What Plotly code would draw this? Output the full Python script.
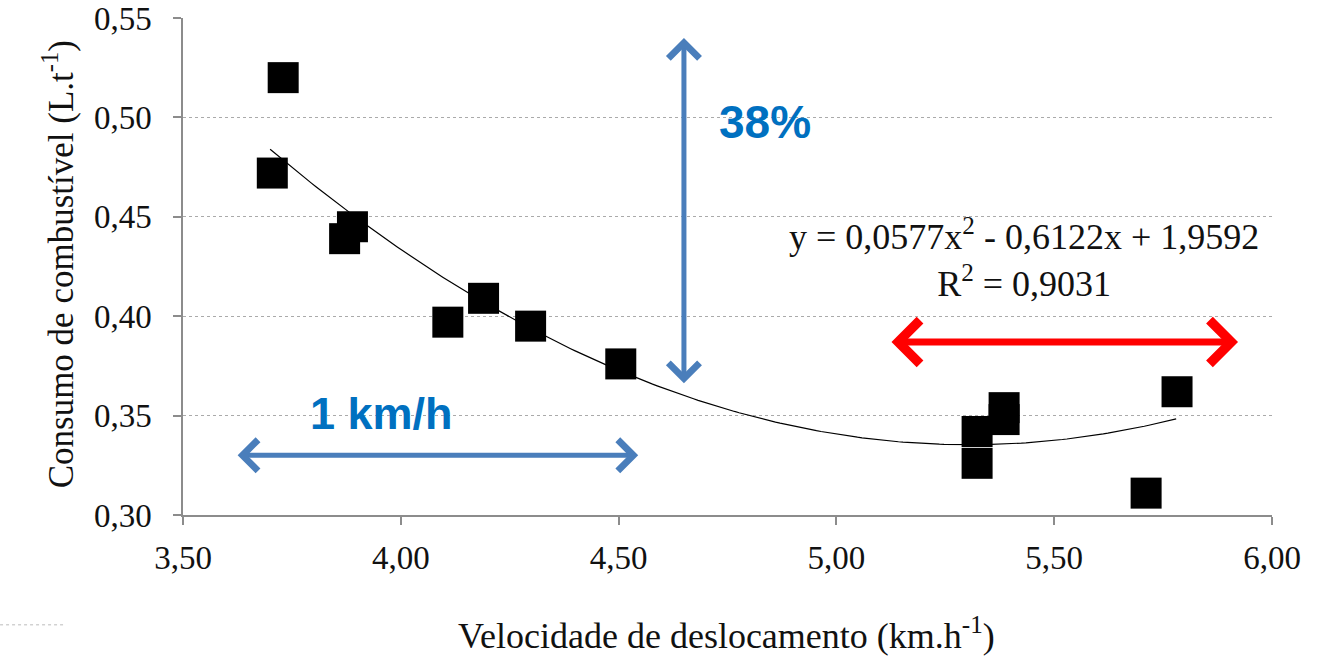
import numpy as np
import plotly.graph_objects as go

# data
velocidade = [3.730, 3.705, 3.871, 3.889, 4.108, 4.190, 4.298, 4.505, 5.323, 5.323, 5.385, 5.385, 5.711, 5.782]
consumo =    [0.520, 0.472, 0.439, 0.445, 0.397, 0.409, 0.395, 0.376, 0.342, 0.326, 0.354, 0.348, 0.311, 0.362]

# trendline coefficients (as printed on chart)
coef_a, coef_b, coef_c = 0.0577, -0.6122, 1.9592
trend_x_range = [3.70, 5.78]

x_ticks = [3.5, 4.0, 4.5, 5.0, 5.5, 6.0]
x_ticklabels = ["3,50", "4,00", "4,50", "5,00", "5,50", "6,00"]
y_ticks = [0.30, 0.35, 0.40, 0.45, 0.50, 0.55]
y_ticklabels = ["0,30", "0,35", "0,40", "0,45", "0,50", "0,55"]

tx = np.linspace(trend_x_range[0], trend_x_range[1], 200)
ty = coef_a * tx**2 + coef_b * tx + coef_c

fig = go.Figure()
fig.add_trace(go.Scatter(x=tx, y=ty, mode="lines", line=dict(color="black", width=1.2),
                         hoverinfo="skip", showlegend=False))
fig.add_trace(go.Scatter(x=velocidade, y=consumo, mode="markers",
                         marker=dict(symbol="square", size=31, color="black",
                                     line=dict(width=0)),
                         showlegend=False))

blue_arrow = "#4A7EBB"
blue_text = "#0070C0"
serif = "Liberation Serif"
sans = "Liberation Sans"

anns = []
# vertical blue double arrow
anns.append(dict(x=4.650, y=0.540, ax=4.650, ay=0.3655, xref="x", yref="y", axref="x", ayref="y",
                 text="", showarrow=True, arrowside="end+start", arrowhead=4, startarrowhead=4,
                 arrowwidth=5, arrowsize=1.2, startarrowsize=1.2, arrowcolor=blue_arrow,
                 standoff=0, startstandoff=0))
# horizontal blue double arrow
anns.append(dict(x=4.545, y=0.330, ax=3.622, ay=0.330, xref="x", yref="y", axref="x", ayref="y",
                 text="", showarrow=True, arrowside="end+start", arrowhead=4, startarrowhead=4,
                 arrowwidth=5, arrowsize=1.2, startarrowsize=1.2, arrowcolor=blue_arrow,
                 standoff=0, startstandoff=0))
# red double arrow
anns.append(dict(x=5.922, y=0.387, ax=5.123, ay=0.387, xref="x", yref="y", axref="x", ayref="y",
                 text="", showarrow=True, arrowside="end+start", arrowhead=4, startarrowhead=4,
                 arrowwidth=7, arrowsize=1.2, startarrowsize=1.2, arrowcolor="#FF0000",
                 standoff=0, startstandoff=0))
anns.append(dict(x=4.836, y=0.4977, xref="x", yref="y", text="<b>38%</b>", showarrow=False,
                 font=dict(family=sans, size=46, color=blue_text)))
anns.append(dict(x=3.955, y=0.3513, xref="x", yref="y", text="<b>1 km/h</b>", showarrow=False,
                 font=dict(family=sans, size=45, color=blue_text)))
anns.append(dict(x=5.430, y=0.4295, xref="x", yref="y",
                 text="y = 0,0577x<sup>2</sup> - 0,6122x + 1,9592<br>R<sup>2</sup> = 0,9031",
                 showarrow=False, align="center",
                 font=dict(family=serif, size=36, color="#111111")))
anns.append(dict(x=-0.137, y=0.505, xref="paper", yref="paper", textangle=-90,
                 text="Consumo de combustível (L.t<sup>-1</sup>)", showarrow=False,
                 font=dict(family=serif, size=35, color="#111111")))
anns.append(dict(x=0.4995, y=-0.287, xref="paper", yref="paper",
                 text="Velocidade de deslocamento (km.h<sup>-1</sup>)", showarrow=False,
                 font=dict(family=serif, size=36, color="#111111")))

fig.update_layout(
    width=1326, height=664,
    margin=dict(l=183, r=54, t=18, b=149),
    paper_bgcolor="white", plot_bgcolor="white",
    annotations=anns,
    shapes=[dict(type="line", xref="paper", yref="paper", x0=-0.168, x1=-0.108, y0=-0.221, y1=-0.221,
                 line=dict(color="#BBBBBB", width=1, dash="dot"))],
    xaxis=dict(range=[3.5, 6.0], tickvals=x_ticks, ticktext=x_ticklabels, automargin=False,
               showgrid=False, zeroline=False, showline=True, linecolor="#8C8C8C", linewidth=1.5,
               ticks="outside", ticklen=8, tickcolor="#8C8C8C", tickwidth=1.5,
               ticklabelstandoff=5, ticklabeloverflow="allow",
               tickfont=dict(family=serif, size=33, color="#111111")),
    yaxis=dict(range=[0.30, 0.55], tickvals=y_ticks, ticktext=y_ticklabels, automargin=False,
               showgrid=True, gridcolor="#AAAAAA", griddash="dot", gridwidth=1,
               zeroline=False, showline=True, linecolor="#8C8C8C", linewidth=1.5,
               ticks="outside", ticklen=8, tickcolor="#8C8C8C", tickwidth=1.5,
               ticklabelstandoff=15, ticklabeloverflow="allow",
               tickfont=dict(family=serif, size=33, color="#111111")),
)

fig.write_html("out.html",
               config={"displayModeBar": False},
               post_script="document.body.style.margin='0';document.body.style.overflow='hidden';")
